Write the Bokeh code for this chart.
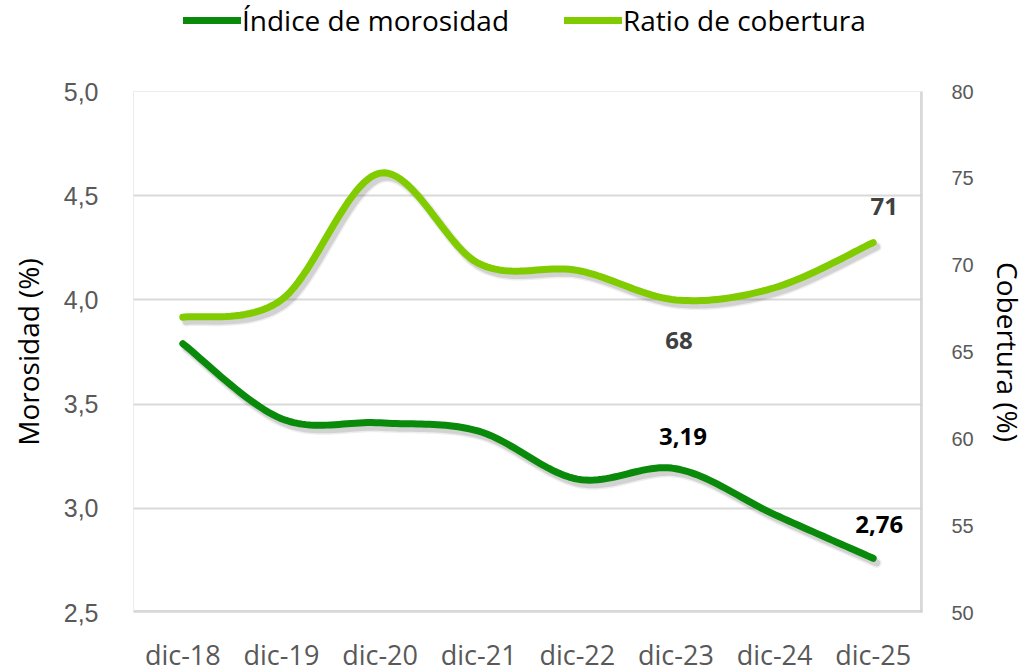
import numpy as np
from bokeh.plotting import figure
from bokeh.layouts import column
from bokeh.models import (Range1d, LinearAxis, Legend, LegendItem, LabelSet,
                          ColumnDataSource, FixedTicker, Span)
from bokeh.core.properties import value
from bokeh.embed import file_html
from bokeh.resources import INLINE

# ---- data ----
periods = ["dic-18", "dic-19", "dic-20", "dic-21", "dic-22", "dic-23", "dic-24", "dic-25"]
morosidad = [3.79, 3.43, 3.41, 3.37, 3.14, 3.19, 2.97, 2.76]
cobertura = [67.0, 68.0, 75.3, 70.1, 69.7, 68.0, 68.7, 71.3]
mor_label_idx = [5, 7]
cob_label_idx = [5, 7]
left_ticks = [2.5, 3.0, 3.5, 4.0, 4.5, 5.0]
right_ticks = [50, 55, 60, 65, 70, 75, 80]
series_names = ["Índice de morosidad", "Ratio de cobertura"]

DARK = "#0A8A0A"
LIGHT = "#80CC00"
FONT = "Open Sans"
NUM_FONT = "Liberation Sans"


def smooth(xs, ys, n=24):
    pts = np.column_stack([xs, ys]).astype(float)
    m = len(pts)
    out = []
    for i in range(m - 1):
        p0 = pts[i - 1] if i > 0 else pts[i]
        p1 = pts[i]
        p2 = pts[i + 1]
        p3 = pts[i + 2] if i + 2 < m else pts[i + 1]
        c1 = p1 + (p2 - p0) / 6.0
        c2 = p2 - (p3 - p1) / 6.0
        t = np.linspace(0, 1, n, endpoint=(i == m - 2))[:, None]
        seg = ((1 - t) ** 3) * p1 + 3 * ((1 - t) ** 2) * t * c1 + 3 * (1 - t) * t ** 2 * c2 + t ** 3 * p2
        out.append(seg)
    a = np.vstack(out)
    return a[:, 0], a[:, 1]


xi = list(range(len(periods)))
mx, my = smooth(xi, morosidad)
cx, cy = smooth(xi, cobertura)

# ---------------- legend strip (frame aligned with the chart below) ----------------
lg = figure(title=None, width=1022, height=40, output_backend="svg", toolbar_location=None,
            x_range=Range1d(0, 1), y_range=Range1d(0, 1), x_axis_type=None, y_axis_type=None,
            min_border=0)
lg.outline_line_color = None
lg.background_fill_color = "white"
lg.border_fill_color = "white"
# series drawn outside this strip's visible range: they only provide the legend swatches
lr1 = lg.line(xi, morosidad, line_color=DARK, line_width=7, line_cap="round")
lr2 = lg.line(xi, cobertura, line_color=LIGHT, line_width=7, line_cap="round")
legend = Legend(items=[LegendItem(label=series_names[0], renderers=[lr1]),
                       LegendItem(label=series_names[1], renderers=[lr2])],
                orientation="horizontal", location="left")
legend.label_text_font = FONT
legend.label_text_font_size = "28px"
legend.label_text_color = "black"
legend.glyph_width = 58
legend.glyph_height = 24
legend.label_height = 24
legend.label_standoff = 1
legend.spacing = 55
legend.padding = 0
legend.margin = 50
legend.border_line_color = None
legend.background_fill_alpha = 0
lg.add_layout(legend, "center")

# ---------------- main chart ----------------
p = figure(title=None, frame_width=789, frame_height=521, output_backend="svg", toolbar_location=None,
           x_range=Range1d(-0.5, 7.5), y_range=Range1d(2.5, 5.0),
           min_border_left=133, min_border_right=100, min_border_top=51, min_border_bottom=46)
p.extra_y_ranges = {"cob": Range1d(50, 80)}
p.background_fill_color = "white"
p.border_fill_color = "white"
p.outline_line_color = "#ececec"
p.outline_line_width = 1

p.xgrid.grid_line_color = None
p.ygrid.grid_line_color = "#d9d9d9"
p.ygrid.grid_line_width = 2
p.ygrid.ticker = FixedTicker(ticks=left_ticks)

xa = p.xaxis[0]
xa.ticker = FixedTicker(ticks=xi)
xa.major_label_overrides = {i: s for i, s in enumerate(periods)}
xa.major_label_text_font = FONT
xa.major_label_text_font_size = "27px"
xa.major_label_text_color = "#595959"
xa.major_label_standoff = 17

ya = p.yaxis[0]
ya.ticker = FixedTicker(ticks=left_ticks)
ya.major_label_overrides = {t: f"{t:.1f}".replace(".", ",") for t in left_ticks}
ya.major_label_text_font = NUM_FONT
ya.major_label_text_font_size = "25px"
ya.major_label_text_color = "#595959"
ya.major_label_standoff = 29
ya.axis_label = "Morosidad (%)"
ya.axis_label_text_font = FONT
ya.axis_label_text_font_size = "28px"
ya.axis_label_text_font_style = "normal"
ya.axis_label_text_color = "black"
ya.axis_label_standoff = 14

ra = LinearAxis(y_range_name="cob", ticker=FixedTicker(ticks=right_ticks))
ra.major_label_text_font = NUM_FONT
ra.major_label_text_font_size = "20px"
ra.major_label_text_color = "#595959"
ra.major_label_standoff = 23
ra.axis_label = "Cobertura (%)"
ra.axis_label_text_font = FONT
ra.axis_label_text_font_size = "28px"
ra.axis_label_text_font_style = "normal"
ra.axis_label_text_color = "black"
ra.axis_label_standoff = 12
p.add_layout(ra, "right")

for ax in [xa, ya, ra]:
    ax.axis_line_color = None
    ax.major_tick_line_color = None
    ax.minor_tick_line_color = None

# frame shadow
p.add_layout(Span(location=7.5, dimension="height", line_color="#cfcfcf", line_width=5, line_alpha=0.8))
p.add_layout(Span(location=2.5, dimension="width", line_color="#cfcfcf", line_width=5, line_alpha=0.8))

# line shadows
dx = 0.035
for w, a in [(10, 0.10), (7, 0.18)]:
    p.line(cx + dx, cy - 0.25, y_range_name="cob", line_color="#555555", line_width=w,
           line_alpha=a, line_cap="round", line_join="round")
    p.line(mx + dx, my - 0.022, line_color="#555555", line_width=w,
           line_alpha=a, line_cap="round", line_join="round")

p.line(cx, cy, y_range_name="cob", line_color=LIGHT, line_width=7,
       line_cap="round", line_join="round")
p.line(mx, my, line_color=DARK, line_width=7, line_cap="round", line_join="round")

mor_src = ColumnDataSource(dict(
    x=[xi[i] for i in mor_label_idx],
    y=[morosidad[i] for i in mor_label_idx],
    t=[f"{morosidad[i]:.2f}".replace(".", ",") for i in mor_label_idx],
    xo=[7, 6], yo=[32, 34]))
cob_src = ColumnDataSource(dict(
    x=[xi[i] for i in cob_label_idx],
    y=[cobertura[i] for i in cob_label_idx],
    t=[f"{cobertura[i]:.0f}" for i in cob_label_idx],
    xo=[3, 11], yo=[-41, 36]))

p.add_layout(LabelSet(source=mor_src, x="x", y="y", text="t", x_offset="xo", y_offset="yo",
                      text_align="center", text_baseline="middle", text_font=value(FONT),
                      text_font_style="bold", text_font_size="24px", text_color="black",
                      background_fill_color="white"))
p.add_layout(LabelSet(source=cob_src, x="x", y="y", text="t", x_offset="xo", y_offset="yo",
                      y_range_name="cob",
                      text_align="center", text_baseline="middle", text_font=value(FONT),
                      text_font_style="bold", text_font_size="24px", text_color="#404040",
                      background_fill_color="white"))

layout = column(lg, p, spacing=0)
open("out.html", "w").write(file_html(layout, INLINE))
